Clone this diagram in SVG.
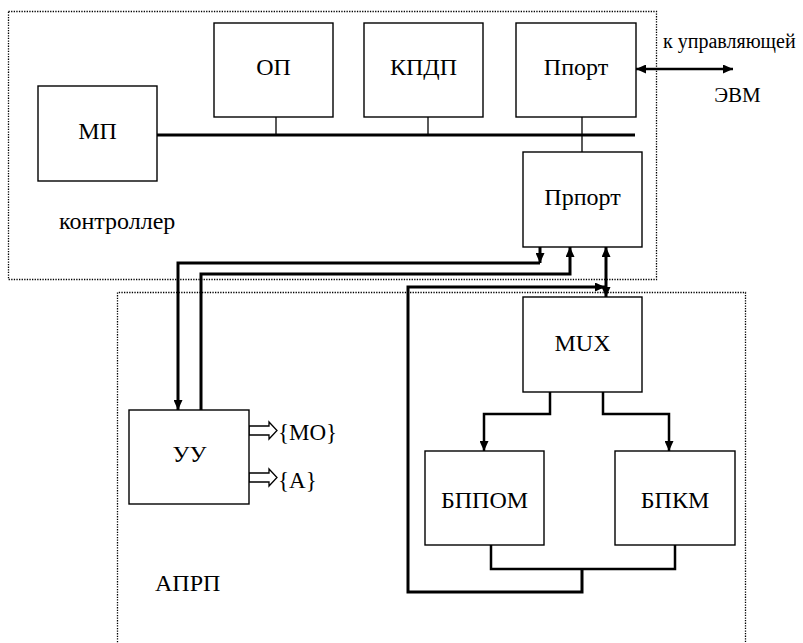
<svg xmlns="http://www.w3.org/2000/svg" width="803" height="643" viewBox="0 0 803 643">
<style>
  .box { fill: #fff; stroke: #000; stroke-width: 1.4; }
  text { font-family: "Liberation Serif", "Times New Roman", serif; fill: #000; }
  .lbl { font-size: 24px; text-anchor: middle; }
  .dot { fill: none; stroke: #000; stroke-width: 1.3; stroke-dasharray: 1.3 1.3; }
  .thick { fill: none; stroke: #000; stroke-width: 3; }
  .mid { fill: none; stroke: #000; stroke-width: 2.5; }
  .thin { fill: none; stroke: #000; stroke-width: 1.3; }
  .hollow { fill: #fff; stroke: #000; stroke-width: 1.3; }
</style>
<defs>
  <marker id="arr" markerUnits="userSpaceOnUse" markerWidth="10" markerHeight="9" refX="10" refY="4.5" orient="auto-start-reverse">
    <path d="M0,0 L10,4.5 L0,9 z" fill="#000"/>
  </marker>
</defs>
<rect width="803" height="643" fill="#fff"/>

<g id="controller-frame">
  <rect class="dot" x="8.5" y="11.5" width="648" height="268"/>
  <text x="59" y="229" font-size="24">контроллер</text>
</g>
<g id="aprp-frame">
  <path class="dot" d="M117.5,650 V292.5 H745.5 V650"/>
  <text x="155" y="591" font-size="24">АПРП</text>
</g>

<g id="connectors">
  <path class="thick" d="M157,135 H635" stroke-width="3.5"/>
  <path class="thin" d="M276,117 V135"/>
  <path class="thin" d="M428,117 V135"/>
  <path class="thin" d="M582,117 V152"/>
  <path class="mid" d="M636,69 H733" marker-start="url(#arr)" marker-end="url(#arr)"/>
  <path class="thick" d="M540,247 V263" marker-end="url(#arr)"/>
  <path class="thick" d="M540,263 H178 V410" marker-end="url(#arr)"/>
  <path class="thick" d="M201,410 V274 H570 V247" marker-end="url(#arr)"/>
  <path class="thick" d="M582,569 V592 H408 V287 H605" marker-end="url(#arr)"/>
  <path class="thick" d="M606,247 V297" marker-start="url(#arr)" marker-end="url(#arr)"/>
  <path class="mid" d="M550,392 V414 H484 V451" marker-end="url(#arr)"/>
  <path class="mid" d="M603,392 V414 H669 V451" marker-end="url(#arr)"/>
  <path class="mid" d="M491,545 V569 H675 V545"/>
  <polygon class="hollow" points="249,426 269,426 269,422 277,430.5 269,439 269,435 249,435"/>
  <polygon class="hollow" points="249,473 269,473 269,469 277,477.5 269,486 269,482 249,482"/>
</g>

<g id="mp">
  <rect class="box" x="38" y="86" width="119" height="95"/>
  <text class="lbl" x="97.5" y="139">МП</text>
</g>
<g id="op">
  <rect class="box" x="214" y="23" width="119" height="94"/>
  <text class="lbl" x="273.5" y="75">ОП</text>
</g>
<g id="kpdp">
  <rect class="box" x="364" y="23" width="119" height="94"/>
  <text class="lbl" x="423.5" y="75">КПДП</text>
</g>
<g id="pport">
  <rect class="box" x="516" y="23" width="120" height="94"/>
  <text class="lbl" x="576" y="75">Ппорт</text>
</g>
<g id="evm-label">
  <text x="663" y="48" font-size="20">к управляющей</text>
  <text x="737.5" y="102" font-size="21" text-anchor="middle">ЭВМ</text>
</g>
<g id="prport">
  <rect class="box" x="523" y="152" width="119" height="95"/>
  <text class="lbl" x="582.5" y="205">Прпорт</text>
</g>
<g id="uu">
  <rect class="box" x="129" y="410" width="120" height="94"/>
  <text class="lbl" x="189.5" y="462">УУ</text>
  <text x="278" y="440" font-size="23">{МО}</text>
  <text x="278" y="488" font-size="23">{А}</text>
</g>
<g id="mux">
  <rect class="box" x="523" y="297" width="119" height="95"/>
  <text class="lbl" x="582.5" y="351">MUX</text>
</g>
<g id="bppom">
  <rect class="box" x="425" y="451" width="119" height="94"/>
  <text class="lbl" x="484.5" y="508" font-size="28">БППОМ</text>
</g>
<g id="bpkm">
  <rect class="box" x="615" y="451" width="120" height="94"/>
  <text class="lbl" x="675" y="508" font-size="28">БПКМ</text>
</g>
</svg>
